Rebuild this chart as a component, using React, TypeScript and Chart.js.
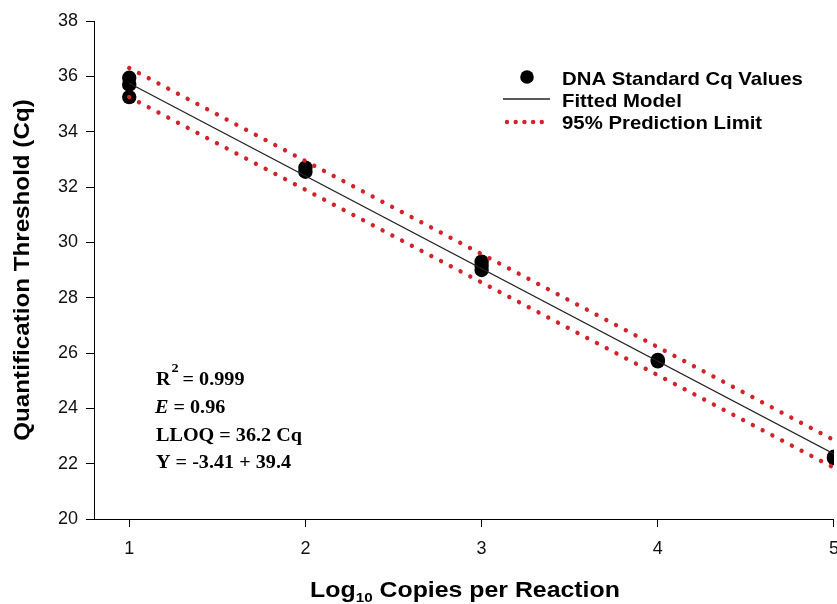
import React, { useEffect, useRef } from "react";
import { Chart, registerables } from "chart.js";

Chart.register(...registerables);

const standardLog = [1, 1, 1, 2, 2, 3, 3, 3, 4, 4, 5, 5];
const standardCq = [35.95, 35.7, 35.25, 32.7, 32.55, 29.3, 29.15, 29.0, 25.75, 25.7, 22.25, 22.2];
const fitLog = [1, 5];
const fitCq = [35.75, 22.35];
const upperCq = [36.3, 22.85];
const lowerCq = [35.25, 21.85];
const xTicks = [1, 2, 3, 4, 5];
const legendLabels = ["DNA Standard Cq Values", "Fitted Model", "95% Prediction Limit"];
const statLines = ["= 0.999", "= 0.96", "LLOQ = 36.2 Cq", "Y = -3.41 + 39.4"];

const RED = "#d2232a";
const SANS = "'Liberation Sans', Arial, sans-serif";
const SERIF = "'Liberation Serif', 'Times New Roman', serif";

const toXY = (xs: number[], ys: number[]) => xs.map((x, i) => ({ x, y: ys[i] }));

function txt(ctx: CanvasRenderingContext2D, s: string, x: number, y: number, font: string, sx: number) {
  ctx.font = font;
  ctx.save();
  ctx.translate(x, y);
  ctx.scale(sx, 1);
  ctx.fillText(s, 0, 0);
  ctx.restore();
  return ctx.measureText(s).width * sx;
}

const overlay = {
  id: "overlay",
  afterDraw(chart: any) {
    const ctx = chart.ctx as CanvasRenderingContext2D;
    ctx.save();
    // legend
    ctx.fillStyle = "#000";
    ctx.beginPath();
    ctx.arc(527, 77, 6.8, 0, Math.PI * 2);
    ctx.fill();
    ctx.strokeStyle = "#222";
    ctx.lineWidth = 1.3;
    ctx.beginPath();
    ctx.moveTo(503, 99);
    ctx.lineTo(550, 99);
    ctx.stroke();
    ctx.fillStyle = RED;
    for (let i = 0; i < 5; i++) {
      ctx.beginPath();
      ctx.arc(507 + i * 8.7, 122, 2.2, 0, Math.PI * 2);
      ctx.fill();
    }
    ctx.fillStyle = "#000";
    ctx.textAlign = "left";
    ctx.textBaseline = "alphabetic";
    const lf = `bold 18.5px ${SANS}`;
    txt(ctx, legendLabels[0], 562, 85, lf, 1.1);
    txt(ctx, legendLabels[1], 562, 107, lf, 1.1);
    txt(ctx, legendLabels[2], 562, 129, lf, 1.1);

    // stats
    const sf = `bold 18.5px ${SERIF}`;
    const ss = 1.09;
    let w = txt(ctx, "R", 156, 385, sf, ss);
    txt(ctx, "2", 156 + w + 1, 372, `bold 13px ${SERIF}`, ss);
    txt(ctx, statLines[0], 156 + w + 12, 385, sf, ss);
    w = txt(ctx, "E", 155, 413, `italic bold 18.5px ${SERIF}`, ss);
    txt(ctx, " " + statLines[1], 155 + w, 413, sf, ss);
    txt(ctx, statLines[2], 156, 441, sf, ss);
    txt(ctx, statLines[3], 156, 468, sf, ss);

    // x title
    const tf = `bold 22px ${SANS}`;
    const subf = `bold 13.5px ${SANS}`;
    const tsx = 1.13;
    ctx.font = tf;
    const a = "Log";
    const c = " Copies per Reaction";
    const wa = ctx.measureText(a).width * tsx;
    const wc = ctx.measureText(c).width * tsx;
    ctx.font = subf;
    const wb = ctx.measureText("10").width * tsx;
    const x0 = 465 - (wa + wb + wc) / 2;
    txt(ctx, a, x0, 597, tf, tsx);
    txt(ctx, "10", x0 + wa, 602, subf, tsx);
    txt(ctx, c, x0 + wa + wb, 597, tf, tsx);

    // y title
    ctx.translate(23, 270);
    ctx.rotate(-Math.PI / 2);
    ctx.textAlign = "center";
    ctx.textBaseline = "middle";
    txt(ctx, "Quantification Threshold (Cq)", 0, 0, `bold 22px ${SANS}`, 1.1);
    ctx.restore();
  },
};

export default function App() {
  const ref = useRef<HTMLCanvasElement | null>(null);
  useEffect(() => {
    document.body.style.margin = "0";
    document.body.style.overflow = "hidden";
    const canvas = ref.current!;
    const chart = new Chart(canvas, {
      type: "scatter",
      data: {
        datasets: [
          {
            label: legendLabels[2],
            data: toXY(fitLog, upperCq),
            showLine: true,
            borderColor: RED,
            borderWidth: 4.4,
            borderDash: [0.01, 11],
            borderCapStyle: "round",
            pointRadius: 0,
          },
          {
            label: legendLabels[2],
            data: toXY(fitLog, lowerCq),
            showLine: true,
            borderColor: RED,
            borderWidth: 4.4,
            borderDash: [0.01, 11],
            borderCapStyle: "round",
            pointRadius: 0,
          },
          {
            label: legendLabels[1],
            data: toXY(fitLog, fitCq),
            showLine: true,
            borderColor: "#222",
            borderWidth: 1.3,
            pointRadius: 0,
          },
          {
            label: legendLabels[0],
            data: toXY(standardLog, standardCq),
            showLine: false,
            pointRadius: 7.2,
            pointBackgroundColor: "#000",
            pointBorderColor: "#000",
            pointBorderWidth: 0,
          },
        ],
      } as any,
      options: {
        animation: false,
        responsive: false,
        layout: { padding: { top: 21, right: 11, left: 0, bottom: 0 }, autoPadding: false } as any,
        plugins: { legend: { display: false }, tooltip: { enabled: false } },
        scales: {
          x: {
            type: "linear",
            min: 0.8,
            max: 5,
            afterBuildTicks: (s: any) => {
              s.ticks = xTicks.map((v) => ({ value: v }));
            },
            afterFit: (s: any) => {
              s.height = 85;
            },
            grid: { display: true, drawOnChartArea: false, drawTicks: true, tickLength: 8, color: "#000" },
            border: { display: true, color: "#000", width: 1 },
            ticks: {
              font: { family: SANS, size: 18 },
              color: "#111",
              padding: 11,
              maxRotation: 0,
            },
          },
          y: {
            type: "linear",
            min: 20,
            max: 38,
            afterFit: (s: any) => {
              s.width = 94;
            },
            grid: { display: true, drawOnChartArea: false, drawTicks: true, tickLength: 8, color: "#000" },
            border: { display: true, color: "#000", width: 1 },
            ticks: {
              stepSize: 2,
              font: { family: SANS, size: 18 },
              color: "#111",
              padding: 8,
            },
          },
        },
      } as any,
      plugins: [overlay],
    });
    return () => chart.destroy();
  }, []);
  return (
    <div style={{ width: 837, height: 604, overflow: "hidden" }}>
      <canvas ref={ref} width={850} height={604} style={{ display: "block", width: 850, height: 604 }} />
    </div>
  );
}
